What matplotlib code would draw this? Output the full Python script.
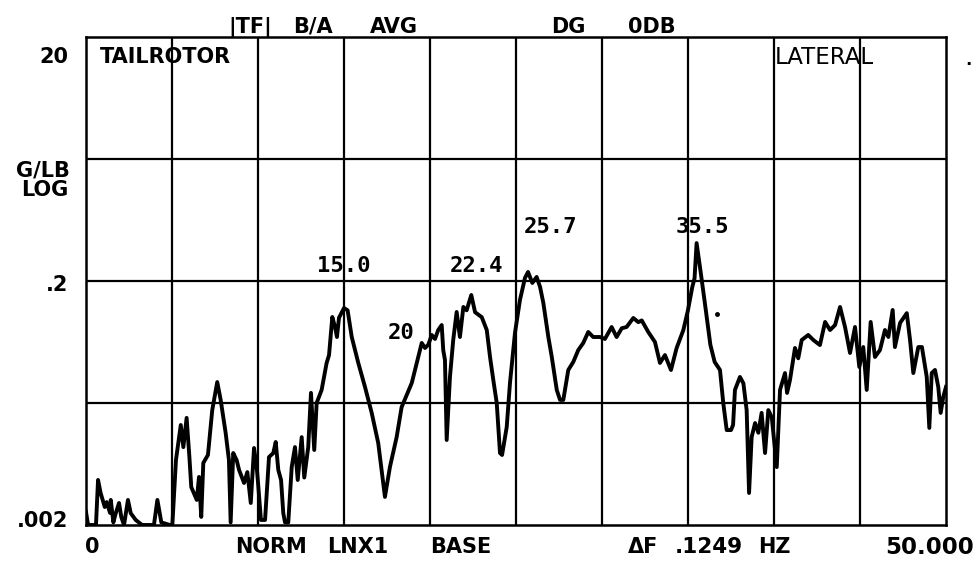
import matplotlib
matplotlib.use("Agg")
import matplotlib.pyplot as plt
import numpy as np

# Transfer-function magnitude |TF| (G/LB) versus frequency (Hz), by band
freq_a = [0.0, 0.12, 0.58, 0.70, 0.85, 1.09, 1.20, 1.40, 1.44, 1.59, 1.73, 1.92, 2.05, 2.21,
          2.44, 2.60, 2.89, 3.26, 3.95, 4.15, 4.38, 4.88,
          5.02, 5.23, 5.51, 5.66, 5.85, 6.01, 6.12, 6.44, 6.57, 6.70, 6.82, 7.09, 7.34, 7.63,
          7.83, 8.12, 8.31, 8.41, 8.56, 8.76, 8.90, 9.19, 9.38, 9.58, 9.77, 9.94]
mag_a = [0.00256, 0.002, 0.002, 0.00468, 0.00366, 0.00281, 0.00308, 0.00251, 0.00321, 0.0021,
         0.0025, 0.00303, 0.00233, 0.002, 0.00321, 0.0025, 0.0022, 0.002, 0.002, 0.00321,
         0.0021, 0.002,
         0.002, 0.00682, 0.0132, 0.0087, 0.0151, 0.00726, 0.00409, 0.00321, 0.00495, 0.00233,
         0.00645, 0.0075, 0.0175, 0.0297, 0.0212, 0.01135, 0.00682, 0.0021, 0.00778, 0.0068,
         0.00565, 0.00442, 0.00543, 0.00303, 0.00855, 0.00565]

freq_b = [10.02, 10.17, 10.41, 10.64, 10.89, 11.03, 11.18, 11.34, 11.47, 11.57, 11.76, 11.96,
          12.15, 12.31, 12.54, 12.69, 12.92, 13.08, 13.27, 13.41, 13.70, 13.99, 14.13, 14.32,
          14.48, 14.59, 14.71, 15.00, 15.21, 15.45, 15.83, 16.22, 16.61, 16.99, 17.38, 17.67,
          18.06, 18.35, 18.65, 18.94, 19.32, 19.52, 19.71]
mag_b = [0.00412, 0.0022, 0.0022, 0.00721, 0.00778, 0.00958, 0.00565, 0.00468, 0.0025, 0.0021,
         0.0021, 0.00597, 0.0087, 0.00468, 0.0105, 0.0049, 0.0087, 0.0242, 0.00824, 0.02,
         0.0256, 0.0426, 0.0494, 0.1014, 0.0839, 0.0695, 0.1, 0.120, 0.115, 0.0695, 0.0426,
         0.0271, 0.0166, 0.0094, 0.0034, 0.00597, 0.0105, 0.0185, 0.0233, 0.0292, 0.0477,
         0.0621, 0.0565]

freq_c = [19.90, 20.10, 20.29, 20.48, 20.68, 20.77, 20.87, 20.97, 21.16, 21.35, 21.55, 21.74,
          21.94, 22.13, 22.40, 22.62, 23.01, 23.30, 23.49, 23.68, 23.88, 24.07, 24.19, 24.46,
          24.65, 24.94, 25.23, 25.52, 25.70, 25.95, 26.20, 26.40, 26.59, 26.88, 27.08, 27.37,
          27.56, 27.75, 28.04, 28.33, 28.62, 28.91, 29.20, 29.49, 29.88]
mag_c = [0.060, 0.0722, 0.067, 0.0793, 0.0871, 0.0543, 0.045, 0.00995, 0.0327, 0.0656, 0.1114,
         0.0695, 0.1225, 0.115, 0.1535, 0.111, 0.101, 0.0793, 0.0477, 0.0309, 0.02, 0.00778,
         0.0075, 0.0127, 0.0292, 0.075, 0.1397, 0.2118, 0.237, 0.1928, 0.2158, 0.1786, 0.132,
         0.0695, 0.0477, 0.0256, 0.0212, 0.0212, 0.0373, 0.0434, 0.0543, 0.0621, 0.0764,
         0.0695, 0.0695]

freq_d = [30.17, 30.56, 30.85, 31.15, 31.43, 31.82, 32.11, 32.31, 32.69, 33.08, 33.37, 33.66,
          34.01, 34.34, 34.73, 35.00, 35.25, 35.38, 35.50, 35.72, 35.98, 36.30, 36.55, 36.86,
          37.05, 37.25, 37.50, 37.62, 37.73, 38.02, 38.22, 38.41, 38.55, 38.70, 38.90, 39.09,
          39.28, 39.48, 39.67, 39.87]
mag_d = [0.067, 0.0839, 0.0695, 0.082, 0.0839, 0.0995, 0.092, 0.095, 0.0764, 0.0632, 0.0426,
         0.0494, 0.0373, 0.0565, 0.0793, 0.1157, 0.179, 0.21, 0.409, 0.246, 0.132, 0.060,
         0.0434, 0.0373, 0.02, 0.012, 0.012, 0.0132, 0.0256, 0.0327, 0.029, 0.0175, 0.00366,
         0.0105, 0.0137, 0.0114, 0.0166, 0.00778, 0.0175, 0.0153]

freq_e = [40.16, 40.35, 40.64, 40.76, 40.93, 41.22, 41.41, 41.61, 41.99, 42.29, 42.67, 42.97,
          43.26, 43.55, 43.84, 44.13, 44.42, 44.71, 44.96, 45.19, 45.39, 45.62, 45.87, 46.16,
          46.45, 46.65, 46.90, 47.03, 47.33, 47.72, 47.91, 48.10, 48.39, 48.60, 48.88, 49.03,
          49.17, 49.36, 49.55, 49.69, 49.84, 50.0]
mag_e = [0.00597, 0.0256, 0.0352, 0.0242, 0.0309, 0.0565, 0.0465, 0.0656, 0.0722, 0.0656,
         0.0597, 0.0923, 0.0793, 0.0871, 0.1225, 0.0839, 0.0514, 0.0839, 0.0395, 0.0575,
         0.0256, 0.0923, 0.0477, 0.0543, 0.0793, 0.0695, 0.1157, 0.0575, 0.0906, 0.109,
         0.0656, 0.0352, 0.0575, 0.0575, 0.0327, 0.0125, 0.0352, 0.0373, 0.0271, 0.0166,
         0.0224, 0.0271]

# Marked peaks (Hz) and their readouts
peak_freqs = [15.0, 22.4, 25.7, 35.5]
peak_labels = ["15.0", "22.4", "25.7", "35.5"]

# Axis ranges
f_min, f_max = 0.0, 50.0
y_min, y_max = 0.002, 20.0
y_grid = [0.02, 0.2, 2.0]
x_grid = list(np.arange(5, 50, 5))

freq = np.concatenate([freq_a, freq_b, freq_c, freq_d, freq_e])
mag = np.concatenate([mag_a, mag_b, mag_c, mag_d, mag_e])

W, H = 980, 563
fig = plt.figure(figsize=(W / 100, H / 100), dpi=100)
fig.patch.set_facecolor("white")


def fpos(x, y):
    """Pixel position -> figure fraction."""
    return x / W, 1 - y / H


ax = fig.add_axes([86 / W, 1 - 525 / H, 860 / W, 488 / H])
ax.set_yscale("log")
ax.set_xlim(f_min, f_max)
ax.set_ylim(y_min, y_max)
ax.set_xticks([])
ax.set_yticks([])
ax.minorticks_off()
for s in ax.spines.values():
    s.set_linewidth(1.8)
    s.set_color("black")
for g in x_grid:
    ax.axvline(g, color="black", lw=1.6, zorder=1)
for g in y_grid:
    ax.axhline(g, color="black", lw=1.6, zorder=1)

ax.plot(freq, mag, color="black", lw=2.8, solid_joinstyle="round", zorder=3)

bold = dict(family=["DejaVu Sans"], fontweight="bold", color="black")
reg = dict(family=["DejaVu Sans"], color="black")
mono = dict(family=["DejaVu Sans Mono"], fontweight="bold", color="black")

# Peak readouts
peak_mag = [mag[np.argmin(np.abs(freq - p))] for p in peak_freqs]
peak_offsets = [(0, 26), (4, 16.5), (16.5, 28), (4, 7.5)]
for p, m, lab, off in zip(peak_freqs, peak_mag, peak_labels, peak_offsets):
    ax.annotate(lab, xy=(p, m), xytext=off, textcoords="offset points",
                ha="center", va="baseline", fontsize=16, **mono)
ax.text(18.3, 0.075, "20", ha="center", va="center", fontsize=16, **mono)

# Corner titles
fig.text(*fpos(100, 57), "TAILROTOR", ha="left", va="center", fontsize=15, **bold)
fig.text(*fpos(775, 57), "LATERAL", ha="left", va="center", fontsize=16.5, **reg)

# Header line
fig.text(*fpos(228, 27), "|TF|", ha="left", va="center", fontsize=15, **bold)
fig.text(*fpos(293, 27), "B/A", ha="left", va="center", fontsize=15, **bold)
fig.text(*fpos(370, 27), "AVG", ha="left", va="center", fontsize=15, **bold)
fig.text(*fpos(551, 27), "DG", ha="left", va="center", fontsize=15, **bold)
fig.text(*fpos(628, 27), "0DB", ha="left", va="center", fontsize=15, **bold)

# Vertical scale labels
fig.text(*fpos(68, 57), "20", ha="right", va="center", fontsize=15, **bold)
fig.text(*fpos(70, 170), "G/LB", ha="right", va="center", fontsize=15, **bold)
fig.text(*fpos(68, 190), "LOG", ha="right", va="center", fontsize=15, **bold)
fig.text(*fpos(68, 285), ".2", ha="right", va="center", fontsize=15, **bold)
fig.text(*fpos(68, 521), ".002", ha="right", va="center", fontsize=15, **bold)

# Bottom line
fig.text(*fpos(85, 547), "0", ha="left", va="center", fontsize=15, **bold)
fig.text(*fpos(235, 547), "NORM", ha="left", va="center", fontsize=15, **bold)
fig.text(*fpos(327, 547), "LNX1", ha="left", va="center", fontsize=15, **bold)
fig.text(*fpos(430, 547), "BASE", ha="left", va="center", fontsize=15, **bold)
fig.text(*fpos(628, 547), "\u0394F", ha="left", va="center", fontsize=15, **bold)
fig.text(*fpos(675, 547), ".1249", ha="left", va="center", fontsize=15.5, **bold)
fig.text(*fpos(758, 547), "HZ", ha="left", va="center", fontsize=15, **bold)
fig.text(*fpos(974, 547), "50.000", ha="right", va="center", fontsize=16.5, **bold)

# Stray plotter dots
fig.text(*fpos(968, 60), ".", ha="center", va="center", fontsize=12, **bold)
ax.plot([36.69], [0.107], marker="o", ms=2.5, color="black", zorder=3)

fig.savefig("out.png", dpi=100, facecolor="white")
